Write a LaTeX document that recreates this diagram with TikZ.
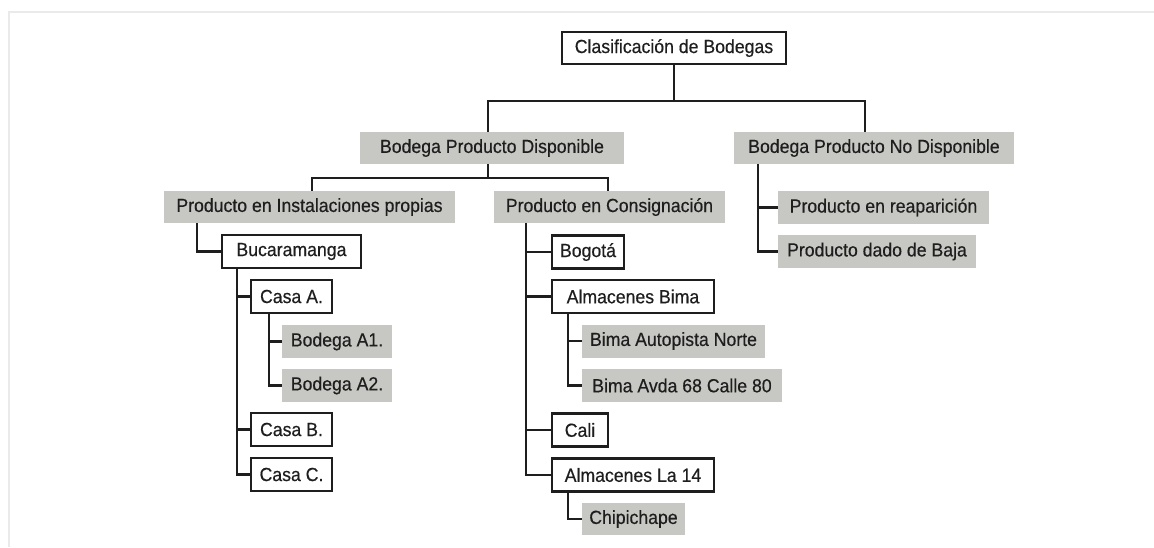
\documentclass[tikz,border=0pt]{standalone}
\usepackage{fontspec}
\setmainfont{Liberation Sans}[FakeBold=0.4,FakeStretch=0.93]
\definecolor{ink}{RGB}{30,30,30}
\definecolor{shade}{RGB}{199,199,195}
\definecolor{frame}{RGB}{234,234,234}
\begin{document}
\begin{tikzpicture}[x=1pt,y=-1pt,
  every node/.style={inner sep=0pt, outer sep=0pt, font=\fontsize{19}{22}\selectfont, text=ink, minimum height=33pt},
  wbox/.style={draw=ink, line width=2.2pt, fill=white},
  gbox/.style={fill=shade},
  conn/.style={draw=ink, line width=2.2pt}]
\useasboundingbox (0,0) rectangle (1154,547);
% outer frame
\draw[frame, line width=1.2pt] (1154,12) -- (9,12) -- (9,547);

% level 0 and 1
\node[wbox, minimum width=224pt, minimum height=32pt] (root) at (674,48) {Clasificación de Bodegas};
\node[gbox, minimum width=264pt, minimum height=32pt] (bpd) at (492,148) {Bodega Producto Disponible};
\node[gbox, minimum width=280pt, minimum height=32pt] (bpnd) at (874,148) {Bodega Producto No Disponible};

% level 2
\node[gbox, minimum width=291pt, minimum height=32pt] (pip) at (309.5,207) {Producto en Instalaciones propias};
\node[gbox, minimum width=231pt, minimum height=32pt] (pec) at (609.5,207) {Producto en Consignación};
\node[gbox, minimum width=211pt] (prep) at (883.5,207.5) {Producto en reaparición};
\node[gbox, minimum width=198pt] (pbaja) at (877,251.5) {Producto dado de Baja};

% own premises
\node[wbox, minimum width=139pt] (buc) at (291.5,251.5) {Bucaramanga};
\node[wbox, minimum width=81pt] (casaA) at (291.5,296.5) {Casa A.};
\node[gbox, minimum width=110pt] (bodA1) at (337,341.5) {Bodega A1.};
\node[gbox, minimum width=110pt] (bodA2) at (337,385.5) {Bodega A2.};
\node[wbox, minimum width=81pt] (casaB) at (291.5,429.5) {Casa B.};
\node[wbox, minimum width=81pt] (casaC) at (291.5,474.5) {Casa C.};

% consignment
\node[wbox, minimum width=72pt] (bog) at (588,252) {Bogotá};
\node[wbox, minimum width=162pt] (bima) at (633,296.5) {Almacenes Bima};
\node[gbox, minimum width=183pt] (bimaN) at (673.5,341) {Bima Autopista Norte};
\node[gbox, minimum width=200pt] (bimaA) at (682,385.5) {Bima Avda 68 Calle 80};
\node[wbox, minimum width=56pt] (cali) at (580,430) {Cali};
\node[wbox, minimum width=162pt] (la14) at (633,475) {Almacenes La 14};
\node[gbox, minimum width=103pt, minimum height=32pt] (chip) at (633.5,519) {Chipichape};

% connectors
\draw[conn] (root.south) -- ++(0,37) -| ([xshift=-4pt]bpd.north);
\draw[conn] (root.south) -- ++(0,37) -| ([xshift=-9pt]bpnd.north);
\draw[conn] ([xshift=-4pt]bpd.south) -- ++(0,14) -| ([xshift=2.5pt]pip.north);
\draw[conn] ([xshift=-4pt]bpd.south) -- ++(0,14) -| ([xshift=-1.5pt]pec.north);
\draw[conn] ([xshift=24pt]bpnd.south west) |- (prep.west);
\draw[conn] ([xshift=24pt]bpnd.south west) |- (pbaja.west);

\draw[conn] ([xshift=33pt]pip.south west) |- (buc.west);
\draw[conn] ([xshift=15pt]buc.south west) |- (casaA.west);
\draw[conn] ([xshift=15pt]buc.south west) |- (casaB.west);
\draw[conn] ([xshift=15pt]buc.south west) |- (casaC.west);
\draw[conn] ([xshift=18pt]casaA.south west) |- (bodA1.west);
\draw[conn] ([xshift=18pt]casaA.south west) |- (bodA2.west);

\draw[conn] ([xshift=32pt]pec.south west) |- (bog.west);
\draw[conn] ([xshift=32pt]pec.south west) |- (bima.west);
\draw[conn] ([xshift=32pt]pec.south west) |- (cali.west);
\draw[conn] ([xshift=32pt]pec.south west) |- (la14.west);
\draw[conn] ([xshift=16pt]bima.south west) |- (bimaN.west);
\draw[conn] ([xshift=16pt]bima.south west) |- (bimaA.west);
\draw[conn] ([xshift=16pt]la14.south west) |- (chip.west);
\end{tikzpicture}
\end{document}
